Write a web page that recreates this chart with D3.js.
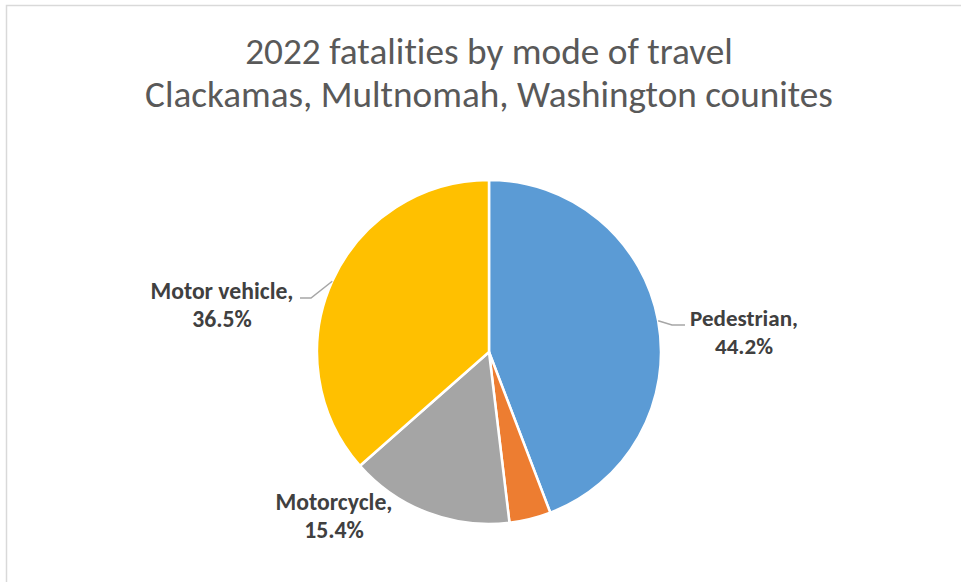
<!DOCTYPE html>
<html>
<head>
<meta charset="utf-8">
<script src="https://cdn.jsdelivr.net/npm/d3@7"></script>
<style>
  html, body { margin: 0; padding: 0; background: #fff; }
  svg { display: block; }
  text { font-variant-ligatures: none; font-feature-settings: "liga" 0; }
</style>
</head>
<body>
<svg id="chart" width="961" height="582"></svg>
<script>
// ---- data ----
const categories = ["Pedestrian", "Bicyclist", "Motorcycle", "Motor vehicle"];
const shares = [44.2, 3.9, 15.4, 36.5];
const showLabel = [true, false, true, true];
const titleLines = ["2022 fatalities by mode of travel", "Clackamas, Multnomah, Washington counites"];

// ---- style / layout ----
const colors = ["#5B9BD5", "#ED7D31", "#A5A5A5", "#FFC000"];
const W = 961, H = 582;
const cx = 489, cy = 352, R = 172;
const FONT = "Carlito, Calibri, Lato, 'Open Sans', sans-serif";
const labelLayout = {
  "Pedestrian":    { x: 744, y: 326, w: 108, leader: [[672, 325], [685, 325]] },
  "Motorcycle":    { x: 334, y: 510, w: 117, leader: null },
  "Motor vehicle": { x: 222, y: 299, w: 143, leader: [[311, 298], [300, 298]] }
};

const svg = d3.select("#chart");

// border
svg.append("rect")
  .attr("x", 6.5).attr("y", 5.5)
  .attr("width", W + 10).attr("height", H + 10)
  .attr("fill", "#fff")
  .attr("stroke", "#d9d9d9").attr("stroke-width", 1.5);

function fit(sel, target) {
  const node = sel.node();
  const base = parseFloat(sel.attr("font-size"));
  const len = node.getComputedTextLength();
  const fs = base * target / len;
  sel.attr("font-size", fs);
  return fs;
}

// title
const titleTargets = [488, 688];
const titleY = [64, 107];
titleLines.forEach((t, i) => {
  const s = svg.append("text")
    .attr("x", 489).attr("y", titleY[i])
    .attr("text-anchor", "middle")
    .attr("font-family", FONT)
    .attr("font-size", 34)
    .attr("fill", "#595959")
    .text(t);
  fit(s, titleTargets[i]);
});

// pie
const pie = d3.pie().sort(null).value(d => d.v);
const data = categories.map((c, i) => ({ c, v: shares[i], color: colors[i], show: showLabel[i] }));
const arcs = pie(data);
const arc = d3.arc().innerRadius(0).outerRadius(R);

const g = svg.append("g").attr("transform", `translate(${cx},${cy})`);
g.selectAll("path.slice")
  .data(arcs)
  .join("path")
  .attr("class", "slice")
  .attr("d", arc)
  .attr("fill", d => d.data.color)
  .attr("stroke", "#fff")
  .attr("stroke-width", 2.5)
  .attr("stroke-linejoin", "round");

// labels
arcs.forEach(a => {
  if (!a.data.show) return;
  const L = labelLayout[a.data.c];
  const mid = (a.startAngle + a.endAngle) / 2;
  if (L.leader) {
    const p0 = [cx + R * Math.sin(mid), cy - R * Math.cos(mid)];
    svg.append("path")
      .attr("d", d3.line()([p0, ...L.leader]))
      .attr("fill", "none")
      .attr("stroke", "#a6a6a6")
      .attr("stroke-width", 1.5);
  }
  const t1 = svg.append("text")
    .attr("x", L.x).attr("y", L.y)
    .attr("text-anchor", "middle")
    .attr("font-family", FONT)
    .attr("font-weight", "bold")
    .attr("font-size", 22)
    .attr("fill", "#404040")
    .text(a.data.c + ",");
  const fs = fit(t1, L.w);
  svg.append("text")
    .attr("x", L.x).attr("y", L.y + 28)
    .attr("text-anchor", "middle")
    .attr("font-family", FONT)
    .attr("font-weight", "bold")
    .attr("font-size", fs)
    .attr("fill", "#404040")
    .text(d3.format(".1f")(a.data.v) + "%");
});
</script>
</body>
</html>
